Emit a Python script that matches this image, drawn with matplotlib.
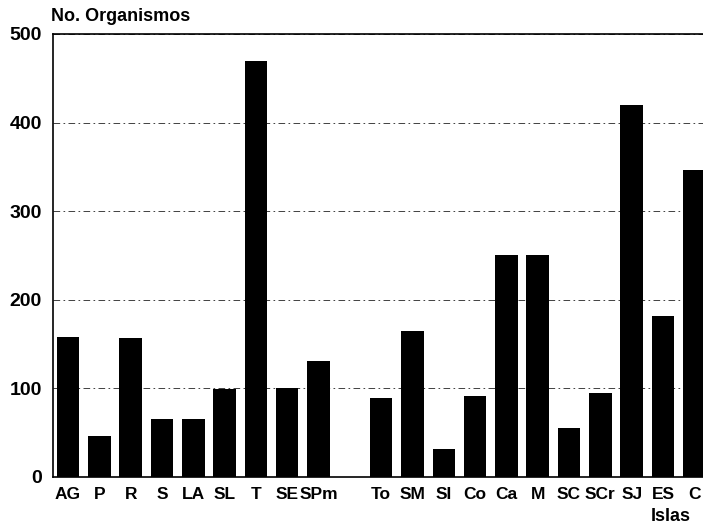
import matplotlib.pyplot as plt

islas = ['AG', 'P', 'R', 'S', 'LA', 'SL', 'T', 'SE', 'SPm',
         'To', 'SM', 'SI', 'Co', 'Ca', 'M', 'SC', 'SCr', 'SJ', 'ES', 'C']
organismos = [158, 46, 157, 66, 65, 99, 470, 101, 131,
              89, 165, 32, 91, 251, 251, 55, 95, 420, 182, 346]
# one empty slot between SPm and To
posiciones = list(range(9)) + list(range(10, 21))

plt.rcParams['font.family'] = ['Liberation Sans', 'DejaVu Sans']
plt.rcParams['font.weight'] = 'bold'

fig = plt.figure(figsize=(7.03, 5.29), dpi=100)
ax = fig.add_axes([0.0754, 0.0983, 0.93, 0.8375])

ax.bar(posiciones, organismos, width=0.72, color='black', zorder=3)

ax.set_xlim(-0.48, 20.4)
ax.set_ylim(0, 500)
ax.set_yticks([0, 100, 200, 300, 400, 500])
ax.set_xticks(posiciones)
ax.set_xticklabels(islas)
ax.tick_params(axis='x', length=0, labelsize=12.5, pad=7)
ax.tick_params(axis='y', length=0, labelsize=14, pad=8)
for lbl in ax.get_xticklabels() + ax.get_yticklabels():
    lbl.set_fontweight('bold')

ax.grid(axis='y', linestyle=(0, (8, 4, 2, 4)), color='#222222', linewidth=0.6, zorder=0)
ax.spines['right'].set_visible(False)
for s in ['left', 'top', 'bottom']:
    ax.spines[s].set_linewidth(1.2)

fig.text(0.072, 0.985, 'No. Organismos', fontsize=13, fontweight='bold', va='top', ha='left')
fig.text(0.982, 0.008, 'Islas', fontsize=13, fontweight='bold', va='bottom', ha='right')

plt.savefig('out.png', dpi=100)
